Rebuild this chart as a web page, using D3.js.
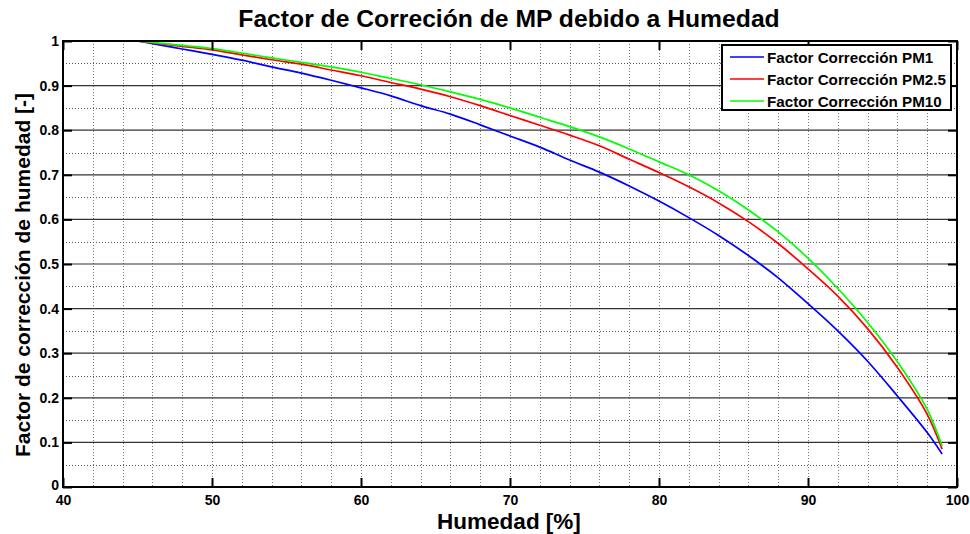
<!DOCTYPE html>
<html>
<head>
<meta charset="utf-8">
<script src="https://cdn.jsdelivr.net/npm/d3@7/dist/d3.min.js"></script>
<style>
  html, body { margin: 0; padding: 0; background: #fff; }
  svg { display: block; font-family: "Liberation Sans", Arial, Helvetica, sans-serif; }
</style>
</head>
<body>
<svg id="chart" width="970" height="534"></svg>
<script>
// Relative humidity [%]
const humedad = [45, 46, 48, 50, 52, 54, 56, 58, 60, 62, 64, 66, 68, 70, 72, 74, 76, 78, 80, 82, 84, 86, 88, 90, 92, 94, 96, 98, 99];

// Correction factors for each particle size
const factorPM1 = [1.000, 0.994, 0.982, 0.970, 0.957, 0.942, 0.928, 0.912, 0.895, 0.877, 0.855, 0.836, 0.812, 0.787, 0.762, 0.733, 0.706, 0.675, 0.641, 0.604, 0.564, 0.519, 0.469, 0.411, 0.350, 0.282, 0.204, 0.122, 0.074];
const factorPM25 = [1.000, 0.996, 0.988, 0.980, 0.969, 0.958, 0.948, 0.935, 0.922, 0.907, 0.892, 0.875, 0.855, 0.833, 0.811, 0.789, 0.765, 0.735, 0.705, 0.673, 0.637, 0.595, 0.546, 0.489, 0.428, 0.355, 0.268, 0.163, 0.085];
const factorPM10 = [1.000, 0.997, 0.990, 0.983, 0.973, 0.962, 0.952, 0.942, 0.930, 0.916, 0.902, 0.886, 0.869, 0.850, 0.829, 0.808, 0.785, 0.758, 0.729, 0.700, 0.664, 0.621, 0.572, 0.513, 0.445, 0.369, 0.281, 0.174, 0.092];

const seriesNames = ["Factor Corrección PM1", "Factor Corrección PM2.5", "Factor Corrección PM10"];
const seriesColors = ["#0000ff", "#ff0000", "#00ff00"];

const xTicks = [40, 50, 60, 70, 80, 90, 100];
const xTickLabels = ["40", "50", "60", "70", "80", "90", "100"];
const yTicks = [0, 0.1, 0.2, 0.3, 0.4, 0.5, 0.6, 0.7, 0.8, 0.9, 1];
const yTickLabels = ["0", "0.1", "0.2", "0.3", "0.4", "0.5", "0.6", "0.7", "0.8", "0.9", "1"];
const xMinorGrid = [42, 44, 46, 48, 50, 52, 54, 56, 58, 60, 62, 64, 66, 68, 70, 72, 74, 76, 78, 80, 82, 84, 86, 88, 90, 92, 94, 96, 98];
const yMinorGrid = [0.05, 0.15, 0.25, 0.35, 0.45, 0.55, 0.65, 0.75, 0.85, 0.95];

const titleText = "Factor de Correción de MP debido a Humedad";
const xLabelText = "Humedad [%]";
const yLabelText = "Factor de corrección de humedad [-]";

const svg = d3.select("#chart");
const plotLeft = 63, plotRight = 957, plotTop = 41, plotBottom = 487;

const x = d3.scaleLinear().domain([40, 100]).range([plotLeft, plotRight]);
const y = d3.scaleLinear().domain([0, 1]).range([plotBottom, plotTop]);

// Dotted minor grid
const grid = svg.append("g");
grid.selectAll("line.vx").data(xMinorGrid).join("line")
  .attr("x1", d => Math.round(x(d)) + 0.5).attr("x2", d => Math.round(x(d)) + 0.5)
  .attr("y1", plotTop).attr("y2", plotBottom)
  .attr("stroke", "#777").attr("stroke-width", 1).attr("stroke-dasharray", "1,2");
grid.selectAll("line.hy").data(yMinorGrid).join("line")
  .attr("x1", plotLeft).attr("x2", plotRight)
  .attr("y1", d => Math.round(y(d)) + 0.5).attr("y2", d => Math.round(y(d)) + 0.5)
  .attr("stroke", "#555").attr("stroke-width", 1).attr("stroke-dasharray", "1,2");
// Solid major horizontal grid
grid.selectAll("line.hm").data(yTicks.slice(1, -1)).join("line")
  .attr("x1", plotLeft).attr("x2", plotRight)
  .attr("y1", d => y(d)).attr("y2", d => y(d))
  .attr("stroke", "#333").attr("stroke-width", 1.2);

// Curves
const line = d3.line().x((d, i) => x(humedad[i])).y(d => y(d)).curve(d3.curveCatmullRom.alpha(0.5));
[factorPM1, factorPM25, factorPM10].forEach((vals, k) => {
  svg.append("path").datum(vals)
    .attr("d", line)
    .attr("fill", "none")
    .attr("stroke", seriesColors[k])
    .attr("stroke-width", 1.7);
});

// Axes with inward ticks
const tickLen = 9;
const styleAxis = g => {
  g.select(".domain").remove();
  g.selectAll(".tick line").attr("stroke", "#000").attr("stroke-width", 2);
  g.selectAll(".tick text").attr("font-size", 14).attr("font-weight", "bold").attr("fill", "#000")
    .attr("font-family", "'Liberation Sans', Arial, sans-serif");
};
svg.append("g").attr("transform", `translate(0,${plotBottom})`)
  .call(d3.axisBottom(x).tickValues(xTicks).tickFormat((d, i) => xTickLabels[i])
    .tickSizeInner(-tickLen).tickSizeOuter(0).tickPadding(8))
  .call(styleAxis);
svg.append("g").attr("transform", `translate(0,${plotTop})`)
  .call(d3.axisTop(x).tickValues(xTicks).tickFormat("").tickSizeInner(-tickLen).tickSizeOuter(0))
  .call(styleAxis);
const yAxisG = svg.append("g").attr("transform", `translate(${plotLeft},0)`)
  .call(d3.axisLeft(y).tickValues(yTicks).tickFormat((d, i) => yTickLabels[i])
    .tickSizeInner(-tickLen).tickSizeOuter(0).tickPadding(4))
  .call(styleAxis);
// keep the "0" label clear of the "40" label below it
yAxisG.selectAll(".tick text").filter(d => d === 0).attr("dy", "0.15em");

svg.append("g").attr("transform", `translate(${plotRight},0)`)
  .call(d3.axisRight(y).tickValues(yTicks).tickFormat("").tickSizeInner(-tickLen).tickSizeOuter(0))
  .call(styleAxis);

// Plot box
svg.append("rect")
  .attr("x", plotLeft).attr("y", plotTop)
  .attr("width", plotRight - plotLeft).attr("height", plotBottom - plotTop)
  .attr("fill", "none").attr("stroke", "#000").attr("stroke-width", 2);

// Title and axis labels
svg.append("text").attr("x", (plotLeft + plotRight) / 2 - 1).attr("y", 27)
  .attr("text-anchor", "middle").attr("font-size", 24.7).attr("font-weight", "bold")
  .text(titleText);
svg.append("text").attr("x", (plotLeft + plotRight) / 2 - 1).attr("y", 529)
  .attr("text-anchor", "middle").attr("font-size", 22.5).attr("font-weight", "bold")
  .text(xLabelText);
svg.append("text")
  .attr("transform", `translate(30,${(plotTop + plotBottom) / 2 + 11}) rotate(-90)`)
  .attr("text-anchor", "middle").attr("font-size", 21).attr("font-weight", "bold")
  .text(yLabelText);

// Legend
const lg = svg.append("g");
lg.append("rect").attr("x", 722).attr("y", 45).attr("width", 229).attr("height", 65)
  .attr("fill", "#fff").attr("stroke", "#000").attr("stroke-width", 2);
seriesNames.forEach((name, k) => {
  const cy = 57 + k * 22;
  lg.append("line").attr("x1", 730).attr("x2", 764).attr("y1", cy).attr("y2", cy)
    .attr("stroke", seriesColors[k]).attr("stroke-width", 1.7);
  lg.append("text").attr("x", 767).attr("y", cy + 5.5)
    .attr("font-size", 15.2).attr("font-weight", "bold").text(name);
});
</script>
</body>
</html>
